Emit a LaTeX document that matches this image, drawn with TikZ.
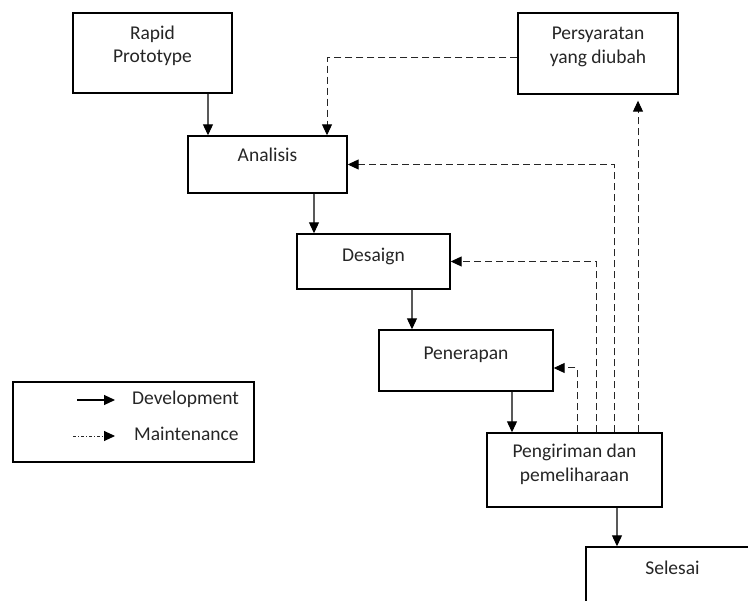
\documentclass[tikz,border=0pt]{standalone}
\usepackage{fontspec}
\setmainfont{Carlito}
\usetikzlibrary{arrows.meta}
\tikzset{
 box/.style={draw=black, line width=1.4pt, inner sep=0pt, fill=white},
 lbl/.style={anchor=base, inner sep=0pt, font=\fontsize{19.5}{24}\selectfont, text=black!85},
 dev/.style={draw=black!65, line width=1.1pt, -{Triangle[length=11pt,width=10pt,black]}},
 maint/.style={draw=black!85, line width=1pt, dash pattern=on 7pt off 4pt, -{Triangle[length=11pt,width=10pt,black]}},
 maintlg/.style={draw=black!85, line width=0.9pt, dash pattern=on 3pt off 2pt on 1pt off 2pt, -{Triangle[length=11pt,width=10pt,black]}},
}
\begin{document}
\begin{tikzpicture}[x=1pt,y=-1pt]
\clip (0,0) rectangle (748,601);
\fill[white] (0,0) rectangle (748,601);
% boxes
\node[box, minimum width=159pt, minimum height=80pt] (rp) at (152.5,53) {};
\node[box, minimum width=160pt, minimum height=81pt] (ps) at (598,53.5) {};
\node[box, minimum width=159pt, minimum height=57pt] (an) at (267.5,164.5) {};
\node[box, minimum width=153pt, minimum height=55pt] (de) at (373.5,261.5) {};
\node[box, minimum width=174pt, minimum height=61pt] (pe) at (466,360.5) {};
\node[box, minimum width=175pt, minimum height=74pt] (pg) at (574.5,470) {};
\node[box, minimum width=173pt, minimum height=80pt] (se) at (672.5,587) {};
\node[box, line width=1.2pt, minimum width=241pt, minimum height=80pt] (lg) at (133.5,422) {};
% texts
\node[lbl] (t1) at (152.5,40) {Rapid};
\node[lbl] (t2) at (152.5,63) {Prototype};
\node[lbl] (t3) at (598,40) {Persyaratan};
\node[lbl] (t4) at (598,64) {yang diubah};
\node[lbl] (t5) at (267.5,162) {Analisis};
\node[lbl] (t6) at (373.5,262) {Desaign};
\node[lbl] (t7) at (466,360) {Penerapan};
\node[lbl] (t8) at (574.5,458) {Pengiriman dan};
\node[lbl] (t9) at (574.5,482) {pemeliharaan};
\node[lbl] (t10) at (672.5,575) {Selesai};
\node[lbl, anchor=base west] (t11) at (132,405) {Development};
\node[lbl, anchor=base west] (t12) at (134,441) {Maintenance};
% development arrows
\draw[dev] ([xshift=55.5pt]rp.south) -- ([xshift=55.5pt]rp.south |- an.north);
\draw[dev] ([xshift=46.5pt]an.south) -- ([xshift=46.5pt]an.south |- de.north);
\draw[dev] ([xshift=38.5pt]de.south) -- ([xshift=38.5pt]de.south |- pe.north);
\draw[dev] ([xshift=46pt]pe.south) -- ([xshift=46pt]pe.south |- pg.north);
\draw[dev] ([xshift=42.5pt]pg.south) -- ([xshift=42.5pt]pg.south |- se.north);
% maintenance arrows
\draw[maint] ([yshift=-4.5pt]ps.west) -| ([xshift=59.5pt]an.north);
\draw[maint] ([xshift=39.5pt]pg.north) |- (an.east);
\draw[maint] ([xshift=21.5pt]pg.north) |- (de.east);
\draw[maint] ([xshift=2.5pt]pg.north) |- ([yshift=-7.5pt]pe.east);
\draw[maint, shorten >=6pt] ([xshift=63.5pt]pg.north) -- ([xshift=40pt]ps.south);
% legend
\coordinate (d1) at (77,400);
\coordinate (d2) at (115,400);
\coordinate (m1) at (73,436);
\coordinate (m2) at (115,436);
\draw[dev, draw=black] (d1) -- (d2);
\draw[maintlg] (m1) -- (m2);
\end{tikzpicture}
\end{document}
